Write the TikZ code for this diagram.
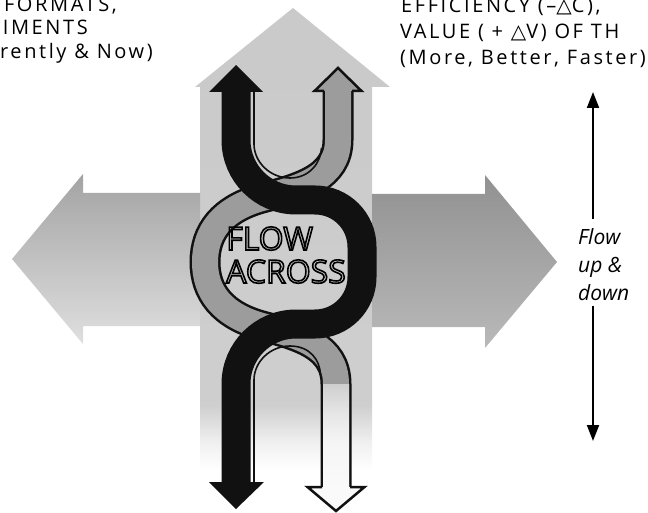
\documentclass[tikz,border=0pt]{standalone}
\usepackage{fontspec}
\setmainfont{Open Sans}
\newfontfamily\lblfont[LetterSpace=13]{Open Sans}
\newfontfamily\symfont{DejaVu Sans}
\usetikzlibrary{arrows.meta}
\definecolor{mInk}{HTML}{111111}
\definecolor{mLobe}{HTML}{9C9C9C}
\pgfdeclareverticalshading{stemfade}{100bp}{color(0bp)=(white); color(25bp)=(white); color(28bp)=(gray!12); color(32bp)=(gray!38); color(75bp)=(gray!42); color(100bp)=(gray!42)}
\pgfdeclareverticalshading{tailfade}{100bp}{color(0bp)=(gray!4); color(25bp)=(gray!4); color(47bp)=(gray!8); color(61bp)=(gray!20); color(75bp)=(gray!38); color(100bp)=(gray!38)}
\newcommand{\hollow}[1]{\special{pdf:literal direct 1 Tr 1.6 w}#1\special{pdf:literal direct 0 Tr}}

\begin{document}
\begin{tikzpicture}[x=1pt, y=-1pt,
    band/.style={line width=31pt, mInk},
    bandfill/.style={line width=26pt, mLobe},
    strand/.style={line width=29pt, mInk},
    rim/.style={line width=2.5pt, mInk, line join=miter},
    ulin/.style={line width=1.6pt, mInk},
    lbl/.style={font=\lblfont\fontsize{20}{23}\selectfont, inner sep=0pt},
  ]
  \useasboundingbox (0,0) rectangle (648,513);
  \clip (0,0) rectangle (648,513);

  % grey cross
  \shade[shading=stemfade] (200,470) -- (200,87) -- (195,87) -- (293,8) -- (390,87) -- (372,87) -- (372,470) -- cycle;
  \shade[top color=gray!72, bottom color=gray!25] (200,193) -- (83,193) -- (83,174) -- (12,259) -- (83,344) -- (83,326) -- (200,326) -- cycle;
  \shade[top color=gray!86, bottom color=gray!55] (372,194) -- (485,194) -- (485,175) -- (557,262) -- (485,348) -- (485,327) -- (372,327) -- cycle;

  % white strand
  \draw[band] (338,90) -- (338,140) .. controls (338,178) and (300,188) .. (262,198) .. controls (222,209) and (205,232) .. (205,262) .. controls (205,292) and (222,315) .. (262,326) .. controls (300,336) and (336,346) .. (336,384) -- (336,487);
  \draw[bandfill] (338,90) -- (338,140) .. controls (338,178) and (300,188) .. (262,198) .. controls (222,209) and (205,232) .. (205,262) .. controls (205,292) and (222,315) .. (262,326) .. controls (300,336) and (336,346) .. (336,384) -- (336,487);
  \shade[shading=tailfade] (323,384) rectangle (349,487);
  \fill[mLobe] (314.5,91) -- (338,68) -- (361.5,91) -- cycle;
  \draw[rim] (324,91) -- (314.5,91) -- (338,68) -- (361.5,91) -- (352,91);
  \fill[gray!4] (307.5,487) -- (336,511) -- (364.5,487) -- cycle;
  \draw[rim] (322,487) -- (307.5,487) -- (336,511) -- (364.5,487) -- (350,487);

  % hairpin lines
  \draw[ulin] (254,89) -- (254,144) .. controls (254,162) and (270,178) .. (290,178) .. controls (310,178) and (321,162) .. (321.5,148);
  \draw[ulin] (254,485) -- (254,380) .. controls (254,362) and (270,346) .. (290,346) .. controls (310,346) and (320,360) .. (320.5,375);

  \node[font=\fontsize{32}{33}\selectfont, align=left, anchor=base west, inner sep=0pt] (across) at (226,283) {\hollow{FLOW}\\\hollow{ACROSS}};

  % black strand
  \draw[strand] (236,92) -- (236,140) .. controls (236,173.1) and (262.9,200) .. (296,200) -- (315,200) .. controls (341,200) and (362,221) .. (362,247) -- (362,277) .. controls (362,303) and (341,324) .. (315,324) -- (296,324) .. controls (262.9,324) and (236,350.9) .. (236,384) -- (236,483);
  \fill[mInk] (209,92) -- (236,65) -- (263,92) -- cycle;
  \fill[mInk] (209,482) -- (236,509) -- (264,482) -- cycle;

  % labels
  \node[lbl, anchor=base east] (fmt) at (117,12) {FORMATS,};
  \node[lbl, anchor=base east] (exp) at (88,35) {IMENTS};
  \node[lbl, anchor=base east] (now) at (153,59) {rently \& Now)};
  \node[lbl, anchor=base west] (eff) at (401,13) {EFFICIENCY (–{\symfont △}C),};
  \node[lbl, anchor=base west] (val) at (400,39) {VALUE ( + {\symfont △}V) OF TH};
  \node[lbl, anchor=base west] (mbf) at (400,65) {(More, Better, Faster)};

  \node[font=\itshape\fontsize{21}{27.5}\selectfont, align=left, anchor=base west, inner sep=0pt] (flow) at (578,300) {Flow\\up \&\\down};
  \coordinate (flowtop) at (593,92);
  \coordinate (flowbot) at (593,441);
  \draw[line width=2pt, -{Triangle[length=16pt,width=12pt]}] ([yshift=10pt]flow.north -| flowtop) -- (flowtop);
  \draw[line width=2pt, -{Triangle[length=16pt,width=12pt]}] ([yshift=-6pt]flow.south -| flowbot) -- (flowbot);
\end{tikzpicture}
\end{document}
